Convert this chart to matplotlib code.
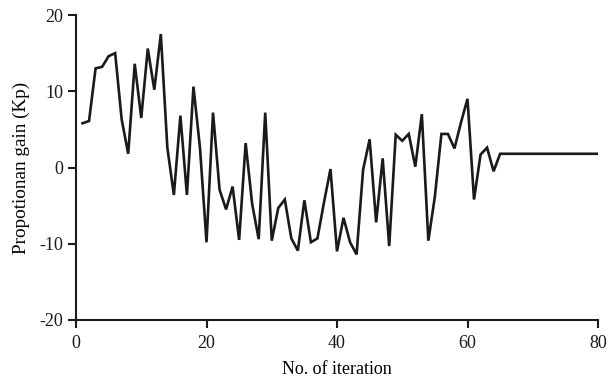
import matplotlib
matplotlib.use("Agg")
import matplotlib.pyplot as plt

iterations = list(range(1, 81))
kp_values = [5.8, 6.1, 13.0, 13.2, 14.6, 15.0, 6.3, 1.8, 13.6, 6.5,
             15.6, 10.2, 17.5, 2.6, -3.6, 6.8, -3.6, 10.6, 2.6, -9.8,
             7.2, -2.9, -5.5, -2.5, -9.5, 3.2, -4.8, -9.4, 7.2, -9.6,
             -5.3, -4.2, -9.3, -10.9, -4.3, -9.8, -9.3, -4.6, -0.2, -11.0,
             -6.6, -9.8, -11.4, -0.3, 3.7, -7.2, 1.2, -10.3, 4.3, 3.5,
             4.4, 0.1, 7.0, -9.6, -3.8, 4.4, 4.4, 2.5, 5.9, 9.0,
             -4.2, 1.7, 2.6, -0.5, 1.8] + [1.8] * 15
x_ticks = [0, 20, 40, 60, 80]
y_ticks = [-20, -10, 0, 10, 20]

plt.rcParams['font.family'] = ['Liberation Serif', 'DejaVu Serif']
plt.rcParams['axes.unicode_minus'] = False

fig = plt.figure(figsize=(6.08, 3.85), dpi=100)
ax = fig.add_axes([76/608, 1-320/385, (598-76)/608, (320-15)/385])
ax.plot(iterations, kp_values, color='#1a1a1a', lw=1.9, solid_joinstyle='miter')
ax.set_xlim(0, 80)
ax.set_ylim(-20, 20)
ax.set_xticks(x_ticks)
ax.set_yticks(y_ticks)
for s in ['top', 'right']:
    ax.spines[s].set_visible(False)
for s in ['left', 'bottom']:
    ax.spines[s].set_linewidth(1.5)
    ax.spines[s].set_color('#1a1a1a')
ax.tick_params(direction='out', length=6, width=1.5, labelsize=13, colors='#1a1a1a')
ax.tick_params(axis='x', pad=5)
ax.tick_params(axis='y', pad=3)
ax.set_xlabel('No. of iteration', fontsize=13, labelpad=6)
ax.set_ylabel('Propotionan gain (Kp)', fontsize=13.8, labelpad=7)
fig.savefig('out.png', dpi=100)
